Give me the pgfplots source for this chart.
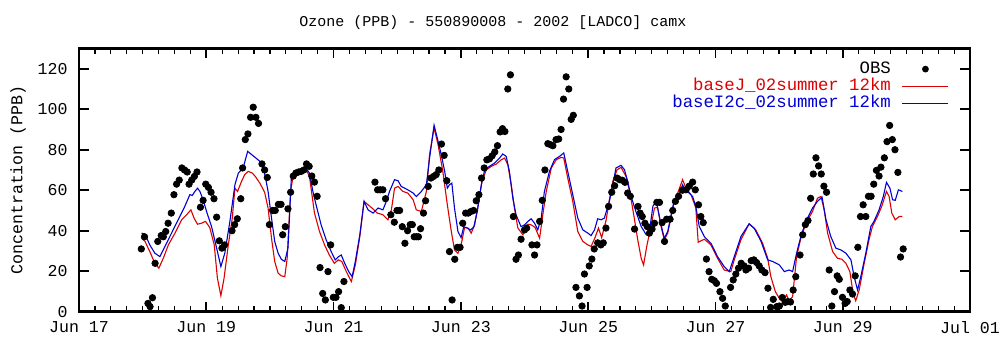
\documentclass[border=0pt]{standalone}
\usepackage{fontspec}
\setmainfont{Liberation Mono}
\usepackage{pgfplots}
\pgfplotsset{compat=1.18}
\definecolor{modred}{RGB}{220,0,0}
\definecolor{modblue}{RGB}{0,0,210}
\pgfplotsset{
  legline/.style={legend image code/.code={\draw[##1] (0pt,0pt) -- (23pt,0pt);}},
  legdot/.style={legend image code/.code={\path[draw=none,fill=none] (0pt,0pt) -- (23pt,0pt); \fill[black,draw=none] (11.5pt,0pt) circle (1.7pt);}},
}
\begin{document}
\begin{tikzpicture}[x=1pt,y=1pt]
\path[use as bounding box] (0,0) rectangle (500,173.5);
\node[font=\fontsize{7.5}{9}\selectfont] at (246.5,162) {Ozone (PPB) - 550890008 - 2002 [LADCO] camx};
\node[rotate=90,font=\fontsize{8.3}{10}\selectfont] at (9,83.5) {Concentration (PPB)};
\begin{axis}[
  at={(39.5pt,17.65pt)}, anchor=south west,
  scale only axis, width=445.5pt, height=131.6pt,
  xmin=0, xmax=336, ymin=0, ymax=130,
  xtick={0,48,96,144,192,240,288,336},
  xticklabels={Jun 17,Jun 19,Jun 21,Jun 23,Jun 25,Jun 27,Jun 29,Jul 01},
  minor x tick num=7,
  ytick={0,20,40,60,80,100,120},
  tick align=inside,
  major tick length=5pt, minor tick length=2.8pt,
  every major tick/.append style={line width=0.8pt, black},
  every minor tick/.append style={line width=0.6pt, black},
  axis line style={line width=1.3pt},
  /pgf/number format/assume math mode=true,
  tick label style={font=\fontsize{8.3}{10}\selectfont},
  yticklabel style={inner sep=0pt, xshift=-5.5pt},
  xticklabel style={inner sep=0pt, yshift=-4.5pt},
  legend plot pos=right,
  legend cell align=right,
  legend style={at={(axis description cs:0.9764,0.949)}, anchor=north east,
    draw=none, fill=none, inner sep=0pt, outer sep=0pt,
    row sep=1.4pt, column sep=5.5pt,
    nodes={inner sep=0pt, text height=5.6pt, text depth=1.6pt, font=\fontsize{8.67}{10}\selectfont}},
]
\addplot[only marks, mark=*, mark size=1.6pt, mark options={fill=black, draw=black}, legdot]
table {
23.5 31.0
24.7 37
26.0 4.1
26.8 2.5
27.7 6.9
28.7 23.9
29.7 34.7
31.0 37.6
31.8 37
32.7 39.6
33.6 43.7
34.8 48.7
35.8 57.8
36.8 63
37.8 65
38.8 71
39.8 70
40.8 69
41.5 63
42.5 65
43.5 66.8
44.5 69
45.8 51.6
46.8 55
47.8 63
48.8 61.4
49.8 59
50.9 55.8
51.9 46.7
52.9 35
53.9 31.4
54.9 33
57.7 40
58.7 43
59.7 45.9
61.0 55.8
61.7 71
62.7 85
63.7 87.8
64.7 96
65.7 101
66.7 96
67.7 93
69.0 73
70.0 70
71.0 66.3
71.8 43
73.0 50
74.0 50
75.2 53
76.2 53
76.8 38
77.8 42
78.8 50.8
79.8 59
80.8 67
81.8 68.5
82.8 69
83.8 69.3
84.8 70
85.8 73
86.8 71.8
87.8 67
88.8 64
89.8 57
90.9 21.8
91.9 9
92.9 5.8
93.9 19.8
94.9 33
95.9 7.1
96.9 7.1
97.9 9.9
98.9 2
99.9 14.9
111.6 64
112.6 60.2
113.6 60.2
114.6 60.2
115.6 55.8
117.6 47.9
118.9 44.2
119.9 50
120.9 50
121.9 42
122.9 33.8
123.9 40
124.9 43
125.7 43
126.4 37
127.2 37
128.0 37
128.8 41
129.9 48.7
130.7 54.8
131.7 61.9
132.7 66
133.7 66.8
134.7 67.7
135.7 70
136.7 82.8
137.7 77.2
138.7 64.7
139.7 29.7
140.7 5.8
141.7 25.9
142.7 31.8
143.7 31.8
144.7 43.7
145.8 48.7
146.8 48.7
147.8 49.5
148.8 50
149.8 54.8
150.8 57.8
151.8 66
152.8 71
153.8 75
154.8 75.5
155.8 77
156.8 78.9
157.8 82
158.8 88.8
159.7 90.4
160.6 89
161.7 110
162.7 117
163.8 47
164.8 25.9
165.7 28
166.7 35.8
168.0 40.4
168.8 41.3
170.8 33
171.8 28
172.7 33
173.7 44.6
174.7 55
175.7 70
176.8 83
177.8 82.5
178.7 82
179.9 85
180.9 85.3
181.8 90
182.7 105
183.7 116
184.7 110
185.6 95
186.4 97
187.4 12
188.7 7.8
189.7 2.8
190.6 18.6
191.6 12
192.4 22.6
193.4 26
194.3 31
195.6 34
196.8 33
197.7 34
198.7 41.3
199.7 52
200.9 59
202.0 62.2
202.9 66
203.9 65.2
204.9 64.9
205.9 63.9
206.9 58.6
207.9 57
209.5 40.8
210.8 52
211.6 48.7
212.4 47
213.4 43.7
214.3 42
215.1 38.8
216.1 40.8
217.0 43.7
217.9 54
218.9 54
219.9 44
220.8 34.7
221.6 45.7
222.9 45.7
223.9 50
224.9 54.5
226.1 57
227.6 60
228.9 60.2
230.1 62
231.4 64
232.4 60.2
233.6 52.8
234.5 47
235.4 44
236.6 26
237.6 19.8
238.6 16
239.6 15.3
240.4 14
241.7 9.9
242.7 6.6
243.7 2.8
245.7 12
246.7 15.7
247.7 18.6
248.7 21.5
249.7 23.9
250.8 22.6
251.5 20.6
252.5 21.5
253.5 25.2
254.5 25.6
255.5 24.3
256.5 22.6
257.5 20.6
258.7 19.3
259.8 11.6
260.8 2.1
261.8 6.1
263.1 2.5
264.1 2.8
265.2 7
266.3 4.6
267.3 5
268.3 4.8
269.3 10.7
270.3 17.3
271.9 28
272.9 38
273.9 43
274.9 45
275.9 56
276.9 68
277.9 76
278.9 72
279.9 68
280.9 62
281.9 59
282.9 20.6
283.9 2.8
284.9 9.9
285.9 17.7
286.7 16
287.9 7.1
288.9 4.1
289.7 5
290.7 10.7
291.7 8.7
292.7 17.7
293.7 31.8
294.7 47
295.7 52.8
296.7 47
297.7 57
298.7 57
299.7 63
300.7 69.8
301.7 67
302.4 71.4
303.7 76
304.7 84
305.7 92
306.7 85
307.7 80
308.8 68.8
309.8 27
310.8 31
};
\addlegendentry{OBS}
\addplot[modred, line width=0.55pt, mark=none, legline]
table {
23.6 36.3
24.9 34.7
26.7 29.7
28.6 23.9
30.1 21.5
31.8 26.4
33.7 33
36.2 38.8
38.7 45.4
40.6 47.9
42.2 50.3
43.4 46.2
44.7 43.2
46.2 43.7
47.7 44.6
49.3 41.6
51.0 33
52.2 16.5
53.5 7.9
54.7 16.5
56.3 33
57.8 46.2
58.8 61
59.8 59.4
61.3 64.4
62.5 67.7
63.8 69.3
65.3 68.5
66.5 66.8
68.2 63.5
70.0 59
71.3 51.2
72.6 36.3
73.8 24.8
75.1 19
76.3 17.7
77.6 17.3
78.5 26.4
79.8 59.4
80.7 66.8
81.9 67.7
83.8 68.5
85.7 70.1
86.9 66.8
88.8 48.7
90.7 39.6
92.6 33
94.4 28
96.3 23.9
97.8 25.6
99.1 24.8
100.8 19.8
102.7 14.9
104.2 23.1
105.9 37.1
107.5 54.5
109.0 52.8
110.5 51.2
112.5 48.7
114.6 47.9
116.5 45.4
117.8 50.3
119.0 61
120.3 61.9
122.1 59.4
124.0 58.6
126.0 55.3
127.2 50.3
129.1 49.5
131.0 59.4
132.2 77.6
133.9 90.8
135.4 82.5
137.2 69.3
138.9 52.8
140.4 39.6
141.6 30.5
142.9 28.9
144.1 33
145.4 41.6
146.7 41.3
147.9 38.8
149.2 42.9
150.5 52.8
152.0 64.4
153.6 70.1
155.5 71.8
157.3 72.9
159.2 75
160.5 75.9
161.7 72.6
163.0 62.7
164.2 51.2
165.5 41.3
167.4 38
168.5 41.3
169.3 43.2
170.5 42.9
172.0 41.6
173.7 36.3
174.9 47.9
176.2 59.4
178.1 71
180.0 75.1
181.8 76.2
182.8 75.9
184.3 66
186.2 54.5
188.1 39.6
190.0 34.7
191.9 33
193.1 32.2
194.6 36.6
195.9 41.3
197.1 36.6
198.8 45.4
200.0 55.3
201.3 64.4
202.9 70.1
204.4 71.3
206.3 66.8
207.9 57.8
209.4 46.2
210.7 35.5
212.0 26.4
212.9 23.1
214.2 33
215.7 42.1
217.0 51.2
218.2 51.5
219.5 42.1
220.7 35.5
222.0 38.8
223.3 47
224.5 54.5
226.0 59.4
227.6 65.2
228.9 61
230.8 57.8
232.6 51.2
233.5 34.3
235.8 35.8
238.3 33
240.8 26.4
243.3 20.6
245.8 19.8
247.1 25.6
249.6 35.5
252.7 43.4
255.2 40.4
257.8 33.8
259.7 26.4
260.9 17.3
262.6 9.9
264.1 6.6
265.3 5
266.8 8.3
267.8 5.4
269.1 7.4
270.6 27.2
272.2 36.3
274.1 43.7
276.6 49.5
278.5 56.1
279.8 56.9
281.0 50.3
282.3 38.8
284.2 29.7
286.0 26.4
287.7 25.9
289.2 23.9
290.7 19.8
291.9 9.1
292.9 5.4
294.2 10.7
296.1 23.9
297.9 35.5
299.2 42.1
301.1 47
302.7 52
304.5 59.4
305.5 56.9
306.5 48.7
307.8 45.4
309.3 47
310.5 47
};
\addlegendentry{\textcolor{modred}{baseJ\_02summer 12km}}
\addplot[modblue, line width=0.55pt, mark=none, legline]
table {
23.6 38.8
24.9 38.3
26.7 33
28.6 28.9
30.5 27.2
32.4 32.2
34.9 38.8
37.4 45.4
39.9 52
41.8 57.8
42.7 57.4
43.7 59.4
44.7 61
45.6 59.4
46.8 55.3
48.1 49.5
50.0 42
51.9 31.4
53.5 22.3
55.0 29
56.9 44.6
58.8 62.7
60.1 68.5
61.9 71
63.6 79.2
65.1 77.6
66.6 76
68.2 74.3
69.4 71
70.1 67.7
71.3 59.4
72.6 46.2
73.8 34.7
75.1 28.9
76.3 25.9
77.6 24.8
78.8 31.4
80.1 66.8
81.3 67.7
82.6 68.5
83.8 69.3
85.7 70.6
86.9 68.5
88.2 59.4
89.4 52.8
91.3 42.9
93.2 35.5
95.1 29.7
96.6 25.6
97.9 27.2
98.9 28
100.2 23.9
101.7 19.8
103.0 17.3
104.2 24.8
105.9 38
107.5 54.5
109.0 50.3
110.9 48.7
112.8 51.2
114.6 50.3
115.9 54.5
117.1 59.4
119.0 65.2
120.3 64.7
121.5 61.9
124.0 60.2
126.0 58.6
127.2 56.9
129.1 59.4
131.0 62.7
132.2 75.9
133.9 92.1
135.4 84.2
136.6 77.6
137.9 69.3
138.9 61
139.7 62.7
140.6 63.5
141.6 51.2
142.9 39.6
144.1 36.6
145.1 42
146.4 41.3
147.7 40.4
148.9 42
150.2 49.5
151.7 62.7
153.0 70.1
154.8 71.8
156.7 73.4
158.6 75.9
159.8 77.9
161.1 76.7
162.3 69.3
163.6 56.1
164.8 47.9
166.7 42
168.0 42.9
169.3 44.6
170.5 45.9
171.8 43.7
173.0 40.4
174.3 46.2
175.5 59.4
177.4 69.3
179.3 75.1
181.2 76.7
182.8 78.4
184.3 69.3
186.2 57.8
188.1 46.2
190.0 40.4
191.9 38.8
193.1 37.6
194.4 40.4
195.6 45.9
196.9 45.4
198.1 46.2
200.0 54.5
201.3 62.7
202.5 71
204.4 72.3
205.7 70.1
206.9 64.4
208.2 56.9
210.0 49.5
212.0 42.1
213.9 38
215.1 39.6
216.4 52
217.6 54.8
218.2 51.2
219.5 42.9
220.7 36.3
222.0 39.6
223.3 47.9
224.5 55.3
226.0 56.9
227.6 62.7
228.9 59.4
230.1 58.6
231.4 56.9
232.6 52
233.9 42.1
235.8 37.1
238.3 33.8
240.8 27.2
243.3 22.3
245.2 19.8
247.1 27.2
249.6 37.1
252.7 43.4
254.6 41.3
257.2 34.7
259.7 25.6
261.6 24.8
264.1 23.1
266.0 19.8
267.8 20.6
269.1 19.8
270.6 28.9
272.2 37.1
274.1 44.6
276.6 51.2
278.5 54.5
280.2 56.6
281.7 45.4
283.5 37.1
285.4 31.4
287.3 30.5
289.2 28.9
291.1 25.6
292.3 17.3
293.6 10.7
294.8 17.3
296.7 28.9
298.6 42.1
299.8 44.6
301.7 50.3
303.3 56.9
304.5 63.9
305.8 61
306.8 55.3
307.8 55
309.0 60.2
310.5 59.4
};
\addlegendentry{\textcolor{modblue}{baseI2c\_02summer 12km}}
\end{axis}
\end{tikzpicture}
\end{document}
